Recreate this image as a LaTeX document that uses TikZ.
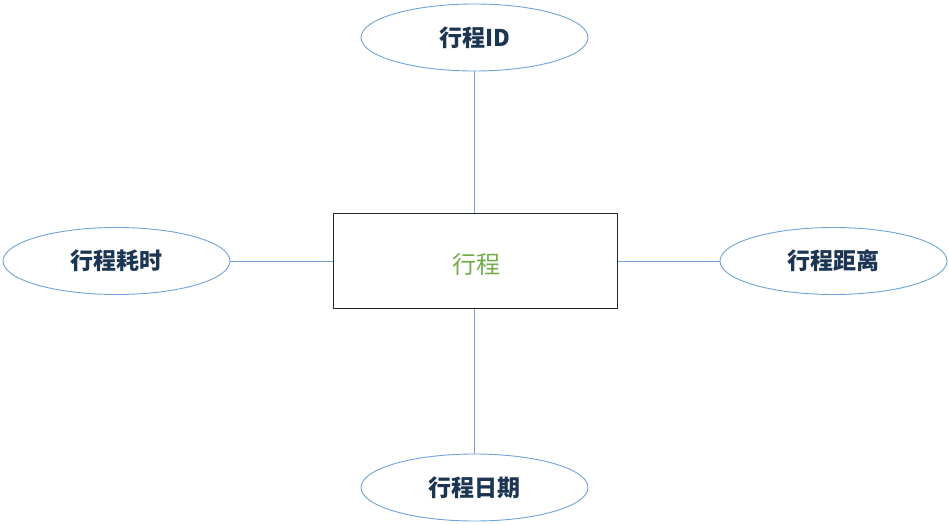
\documentclass[tikz,border=0pt]{standalone}
\usepackage{fontspec}
\newfontfamily\cjk{Noto Sans CJK SC}
\usetikzlibrary{shapes.geometric}
\definecolor{attrline}{HTML}{6FA3DA}
\definecolor{attrtext}{HTML}{1B3553}
\definecolor{enttext}{HTML}{70AD47}
\tikzset{
  attr/.style={ellipse, draw=attrline, line width=0.9pt, minimum width=227pt, minimum height=67pt, inner sep=0pt, text=attrtext, font=\cjk\bfseries\fontsize{23}{26}\selectfont},
  entity/.style={rectangle, draw=black!85, line width=1pt, minimum width=284pt, minimum height=95pt, inner sep=0pt},
  enttxt/.style={text=enttext, font=\cjk\fontsize{24}{28}\selectfont},
  link/.style={draw=attrline, line width=0.9pt}
}
\begin{document}
\begin{tikzpicture}[x=1pt,y=-1pt]
\useasboundingbox (0,0) rectangle (949,524);
\node[entity] (e) at (475,260.5) {};
\node[enttxt] (et) at (476,264) {行程};
\node[attr] (id) at (474.5,37.5) {行程ID};
\node[attr] (hs) at (116.5,261) {行程耗时};
\node[attr] (jl) at (833.5,261) {行程距离};
\node[attr] (rq) at (474.5,487.5) {行程日期};
\draw[link] (id.south) -- (e.north -| id.south);
\draw[link] (hs.east) -- (e.west |- hs.east);
\draw[link] (jl.west) -- (e.east |- jl.west);
\draw[link] (rq.north) -- (e.south -| rq.north);
\end{tikzpicture}
\end{document}
